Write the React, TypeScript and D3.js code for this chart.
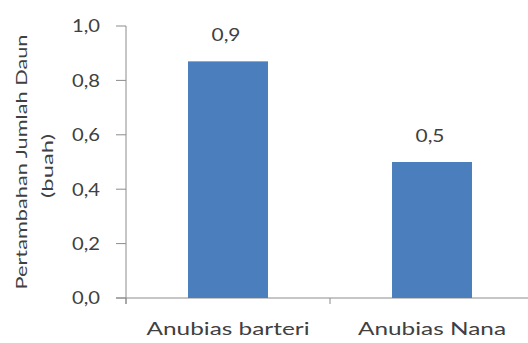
import React from "react";
import * as d3 from "d3";

// Leaf-count increase per Anubias variety
const categories: string[] = ["Anubias barteri", "Anubias Nana"];
const values: number[] = [0.87, 0.5];
const yTicks: number[] = [0, 0.2, 0.4, 0.6, 0.8, 1.0];
const yTitle: string[] = ["Pertambahan  Jumlah Daun", "(buah)"];

const W = 528;
const H = 343;
const FONT = "Lato, 'Open Sans', sans-serif";
const TEXT = "#404040";
const AXIS = "#8c8c8c";
const BAR = "#4a7ebd";

const fmt = (v: number) => v.toFixed(1).replace(".", ",");

export default function App() {
  const x = d3.scaleBand<string>().domain(categories).range([126, 534]).paddingInner(0.608).paddingOuter(0.304);
  const y = d3.scaleLinear().domain([0, 1]).range([298, 26]);
  const step = x.step();
  const bounds = categories.map((c) => (x(c) as number) - step * 0.304);
  bounds.push(bounds[bounds.length - 1] + step);
  const catWidths = [163, 148];

  return (
    <div style={{ position: "absolute", left: 0, top: 0 }}>
      <svg width={W} height={H} style={{ display: "block", background: "#fff" }}>
        {/* y axis */}
        <line x1={126} x2={126} y1={y(1)} y2={y(0) + 6} stroke={AXIS} strokeWidth={1} />
        {yTicks.map((t) => (
          <g key={t}>
            <line x1={116} x2={126} y1={y(t)} y2={y(t)} stroke={AXIS} strokeWidth={1} />
            <text
              x={100}
              y={y(t)}
              dy="0.36em"
              textAnchor="end"
              fontFamily={FONT}
              fontSize={18}
              fill={TEXT}
              textLength={28}
              lengthAdjust="spacingAndGlyphs"
            >
              {fmt(t)}
            </text>
          </g>
        ))}
        {/* x axis */}
        <line x1={116} x2={W} y1={y(0)} y2={y(0)} stroke={AXIS} strokeWidth={1} />
        {bounds.map((b, i) => (
          <line key={i} x1={b} x2={b} y1={y(0)} y2={y(0) + 6} stroke={AXIS} strokeWidth={1} />
        ))}
        {/* bars */}
        {categories.map((c, i) => (
          <rect key={c} x={x(c)} y={y(values[i])} width={x.bandwidth()} height={y(0) - y(values[i])} fill={BAR} />
        ))}
        {/* value labels */}
        {categories.map((c, i) => (
          <text
            key={c + "-v"}
            x={(x(c) as number) + x.bandwidth() / 2 - 2}
            y={y(values[i]) - 20}
            textAnchor="middle"
            fontFamily={FONT}
            fontSize={18}
            fill={TEXT}
            textLength={29}
            lengthAdjust="spacingAndGlyphs"
          >
            {fmt(values[i])}
          </text>
        ))}
        {/* category labels */}
        {categories.map((c, i) => (
          <text
            key={c + "-c"}
            x={(x(c) as number) + x.bandwidth() / 2}
            y={335}
            textAnchor="middle"
            fontFamily={FONT}
            fontSize={18}
            fill={TEXT}
            textLength={catWidths[i]}
            lengthAdjust="spacingAndGlyphs"
          >
            {c}
          </text>
        ))}
        {/* y axis title */}
        <g transform="translate(21,162) rotate(-90)">
          <text
            x={0}
            y={0}
            dy="0.35em"
            textAnchor="middle"
            fontFamily={FONT}
            fontSize={16}
            fill={TEXT}
            textLength={255}
            lengthAdjust="spacingAndGlyphs"
          >
            {yTitle[0]}
          </text>
        </g>
        <g transform="translate(47,166) rotate(-90)">
          <text
            x={0}
            y={0}
            dy="0.35em"
            textAnchor="middle"
            fontFamily={FONT}
            fontSize={16}
            fill={TEXT}
            textLength={64}
            lengthAdjust="spacingAndGlyphs"
          >
            {yTitle[1]}
          </text>
        </g>
      </svg>
    </div>
  );
}
